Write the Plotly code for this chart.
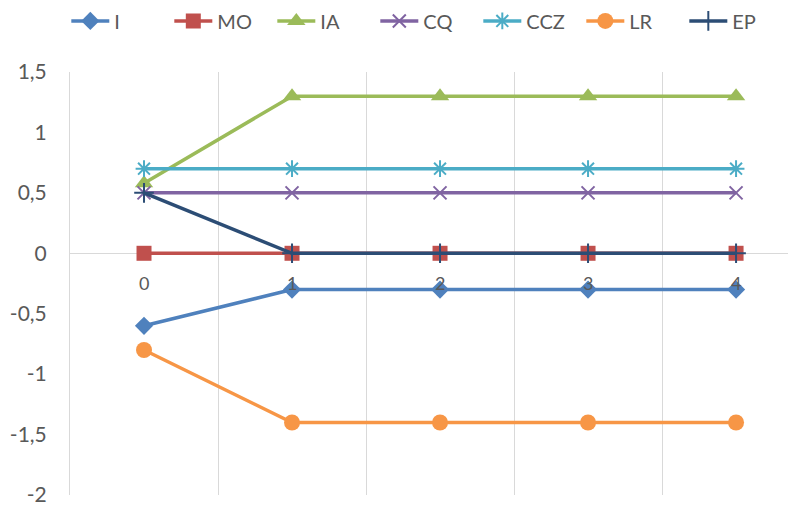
import plotly.graph_objects as go

categories = [0, 1, 2, 3, 4]
series_names = ["I", "MO", "IA", "CQ", "CCZ", "LR", "EP"]
I_vals = [-0.6, -0.3, -0.3, -0.3, -0.3]
MO_vals = [0, 0, 0, 0, 0]
IA_vals = [0.58, 1.3, 1.3, 1.3, 1.3]
CQ_vals = [0.5, 0.5, 0.5, 0.5, 0.5]
CCZ_vals = [0.7, 0.7, 0.7, 0.7, 0.7]
LR_vals = [-0.8, -1.4, -1.4, -1.4, -1.4]
EP_vals = [0.5, 0, 0, 0, 0]
y_ticks = [-2, -1.5, -1, -0.5, 0, 0.5, 1, 1.5]
y_tick_labels = ["-2", "-1,5", "-1", "-0,5", "0", "0,5", "1", "1,5"]

values = [I_vals, MO_vals, IA_vals, CQ_vals, CCZ_vals, LR_vals, EP_vals]
colors = ["#4F81BD", "#C0504D", "#9BBB59", "#8064A2", "#4BACC6", "#F79646", "#2C4D75"]
symbols = ["diamond", "square", "triangle-up", "x-thin-open", "asterisk-open", "circle", "cross-thin-open"]
sizes = [14, 15, 16, 13, 14, 16, 14]

fig = go.Figure()
for name, vals, c, s, sz in zip(series_names, values, colors, symbols, sizes):
    open_sym = s.endswith("-open")
    fig.add_trace(go.Scatter(
        x=categories, y=vals, name=name, mode="lines+markers",
        line=dict(color=c, width=3.5),
        marker=dict(symbol=s, size=sz, color=c,
                    line=dict(color=c, width=2 if open_sym else 0)),
    ))

for cat in categories:
    fig.add_annotation(x=cat, y=0, text=str(cat), showarrow=False,
                       yanchor="top", yshift=-17,
                       font=dict(size=18, color="#595959"))

# the page body adds an 8px offset, so the figure is sized/margined to compensate
fig.update_layout(
    width=788, height=497,
    margin=dict(l=62, r=0, t=64, b=10, autoexpand=False),
    paper_bgcolor="white", plot_bgcolor="white",
    font=dict(family="Lato, sans-serif", color="#595959"),
    showlegend=True,
    legend=dict(orientation="h", x=0.074, xref="container", xanchor="left",
                y=0.974, yref="container", yanchor="middle",
                font=dict(size=20, color="#595959"),
                itemwidth=38, tracegroupgap=0,
                entrywidth=50, entrywidthmode="pixels"),
    xaxis=dict(range=[-0.5, 4.405], tickmode="linear", tick0=-0.5, dtick=1,
               showticklabels=False, showgrid=True, gridcolor="#D9D9D9", gridwidth=1,
               zeroline=False, showline=False, ticks=""),
    yaxis=dict(range=[-2, 1.5], tickmode="array", tickvals=y_ticks, ticktext=y_tick_labels,
               showgrid=False, zeroline=True, zerolinecolor="#D9D9D9", zerolinewidth=1,
               showline=True, linecolor="#D9D9D9", linewidth=1, ticklabeloverflow="allow",
               tickfont=dict(size=21, color="#595959"), ticks="", ticklabelstandoff=18),
)

fig.write_html("out.html")
